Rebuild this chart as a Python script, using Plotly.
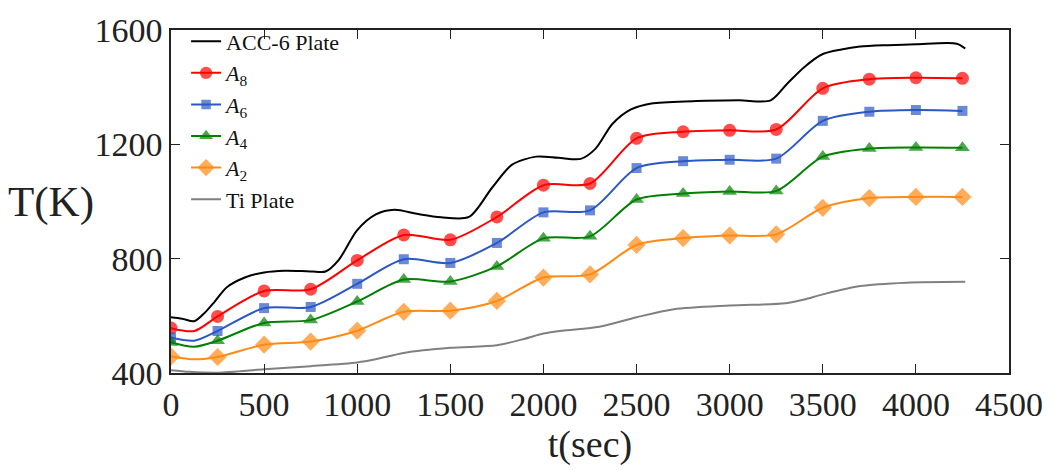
import plotly.graph_objects as go

# Time stamps (s) of the thermocouple series; 125 s is an unmarked intermediate reading
t_series = [0, 125, 250, 500, 750, 1000, 1250, 1500, 1750, 2000, 2250,
            2500, 2750, 3000, 3250, 3500, 3750, 4000, 4250]

a8 = [557, 547, 598, 687, 693, 794, 883, 866, 946, 1057, 1063,
      1221, 1244, 1249, 1252, 1396, 1428, 1433, 1431]
a6 = [524, 513, 547, 627, 631, 712, 798, 785, 855, 962, 969,
      1117, 1141, 1146, 1150, 1282, 1314, 1320, 1317]
a4 = [507, 492, 513, 575, 585, 650, 727, 720, 773, 871, 878,
      1007, 1028, 1035, 1037, 1157, 1185, 1189, 1188]
a2 = [458, 448, 456, 499, 510, 548, 614, 618, 652, 734, 745,
      848, 872, 881, 885, 978, 1012, 1016, 1016]

# Plate surface histories
t_acc = [0, 60, 125, 180, 235, 300, 400, 500, 610, 700, 760, 830, 900, 1000,
         1100, 1200, 1320, 1450, 1600, 1725, 1830, 1960, 2080, 2200, 2280,
         2370, 2470, 2580, 2800, 3050, 3220, 3310, 3400, 3500, 3600, 3700,
         3850, 4000, 4220, 4265]
acc6 = [595, 590, 581, 610, 650, 700, 735, 752, 758, 757, 755, 755, 795, 900,
        955, 971, 957, 945, 946, 1049, 1128, 1157, 1153, 1149, 1185,
        1271, 1322, 1343, 1351, 1354, 1354, 1413, 1470, 1516, 1532, 1542,
        1547, 1550, 1552, 1535]

t_ti = [0, 100, 250, 500, 750, 1000, 1100, 1250, 1500, 1750, 1900, 2000,
        2100, 2300, 2500, 2700, 3000, 3300, 3400, 3500, 3700, 3950, 4265]
ti = [410, 404, 401, 413, 424, 437, 448, 470, 488, 497, 520, 538,
      548, 562, 595, 623, 636, 644, 657, 675, 704, 716, 719]

x_ticks = [0, 500, 1000, 1500, 2000, 2500, 3000, 3500, 4000, 4500]
y_ticks = [400, 800, 1200, 1600]

FONT = "Liberation Serif"

fig = go.Figure()

fig.add_trace(go.Scatter(
    x=t_acc, y=acc6, mode="lines", name="ACC-6 Plate",
    line=dict(color="black", width=2, shape="spline", smoothing=0.8)))

marked = [
    ("<i>A</i><sub>8</sub>", a8, "#ff0000", "circle", 13),
    ("<i>A</i><sub>6</sub>", a6, "#2b57c5", "square", 10),
    ("<i>A</i><sub>4</sub>", a4, "#008000", "triangle-up", 13),
    ("<i>A</i><sub>2</sub>", a2, "#ff8a14", "diamond", 14),
]
for name, vals, color, symbol, size in marked:
    sizes = [0 if t % 250 else size for t in t_series]
    fig.add_trace(go.Scatter(
        x=t_series, y=vals, mode="lines+markers", name=name,
        line=dict(color=color, width=2, shape="spline", smoothing=0.8),
        marker=dict(symbol=symbol, size=sizes, color=color, line=dict(width=0))))

fig.add_trace(go.Scatter(
    x=t_ti, y=ti, mode="lines", name="Ti Plate",
    line=dict(color="#808080", width=2, shape="spline", smoothing=0.8)))

axis_common = dict(
    showline=True, linecolor="#222", linewidth=1.5, mirror="ticks",
    ticks="inside", ticklen=9, tickwidth=1.3, tickcolor="#222",
    showgrid=False, zeroline=False,
    tickfont=dict(family=FONT, size=34, color="#222"),
)

fig.update_layout(
    width=1055, height=470,
    margin=dict(l=171, r=43, t=22, b=97),
    paper_bgcolor="white", plot_bgcolor="white",
    showlegend=True,
    legend=dict(x=0.018, y=1.028, xanchor="left", yanchor="top",
                font=dict(family=FONT, size=22, color="#111"),
                bgcolor="rgba(255,255,255,0)", borderwidth=0,
                tracegroupgap=0, itemsizing="trace"),
    xaxis=dict(range=[0, 4500], tickvals=x_ticks,
               ticktext=[str(v) for v in x_ticks],
               title=dict(text="t(sec)", font=dict(family=FONT, size=38, color="#222"),
                          standoff=8),
               **axis_common),
    yaxis=dict(range=[400, 1600], tickvals=y_ticks,
               ticktext=[str(v) for v in y_ticks], **axis_common),
    annotations=[dict(text="T(K)", xref="paper", yref="paper", x=-0.197, y=0.5,
                      xanchor="left", yanchor="middle", showarrow=False,
                      font=dict(family=FONT, size=43, color="#222"))],
)

fig.write_html("out.html")
